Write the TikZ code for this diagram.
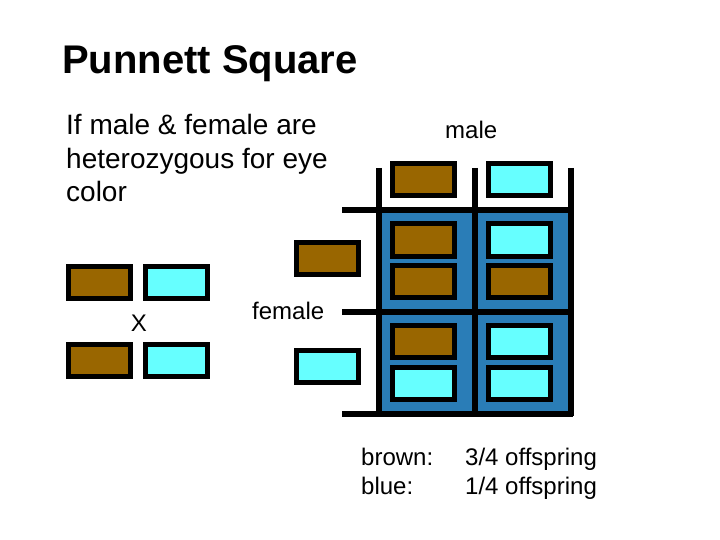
\documentclass[tikz,border=0pt]{standalone}
\usepackage{fontspec}
\setmainfont{Liberation Sans}
\definecolor{brownfill}{HTML}{996600}
\definecolor{bluefill}{HTML}{66FFFF}
\definecolor{cellblue}{HTML}{2A7DB7}
\tikzset{
  gene/.style={draw=black, line width=5pt, inner sep=0pt, minimum width=62pt, minimum height=32pt},
  brn/.style={gene, fill=brownfill},
  blu/.style={gene, fill=bluefill},
  gridline/.style={line width=6pt, black},
  lbl/.style={inner sep=0pt, anchor=base west, font=\fontsize{24}{28}\selectfont}
}
\begin{document}
\begin{tikzpicture}[x=1pt,y=-1pt]
\useasboundingbox (0,0) rectangle (720,540);
% title and text
\node[inner sep=0pt, anchor=base west, font=\fontsize{40}{48}\selectfont\bfseries] (title) at (62,74) {Punnett Square};
\node[inner sep=0pt, anchor=base west, font=\fontsize{28}{33.5}\selectfont, align=left] (intro) at (66,202) {If male \& female are\\heterozygous for eye\\color};
% parents
\node[brn] (p1) at (99.5,282) {};
\node[blu] (p2) at (176.5,282) {};
\node[lbl, anchor=base] (x) at (139,331) {X};
\node[brn] (p3) at (99.5,360.5) {};
\node[blu] (p4) at (176.5,360.5) {};
% grid
\fill[cellblue] (379,210) rectangle (570.5,413.5);
\draw[gridline] (379,168) -- (379,417);
\draw[gridline] (474.5,168) -- (474.5,417);
\draw[gridline] (570.5,168) -- (570.5,416);
\draw[gridline] (342,210) -- (573,210);
\draw[gridline] (342,312) -- (573,312);
\draw[gridline] (342,413.5) -- (573,413.5);
% male
\node[lbl] (male) at (445,139) {male};
\node[brn] (m1) at (423.5,180) {};
\node[blu] (m2) at (519.5,180) {};
% female
\node[lbl] (female) at (252,319) {female};
\node[brn] (f1) at (327.5,258.5) {};
\node[blu] (f2) at (327.5,366.5) {};
% cells
\node[brn] (c11a) at (423.5,240) {};
\node[brn] (c11b) at (423.5,281.5) {};
\node[blu] (c12a) at (519.5,240) {};
\node[brn] (c12b) at (519.5,281.5) {};
\node[brn] (c21a) at (423.5,341.5) {};
\node[blu] (c21b) at (423.5,383.5) {};
\node[blu] (c22a) at (519.5,341.5) {};
\node[blu] (c22b) at (519.5,383.5) {};
% results
\node[lbl] (brown) at (361,465) {brown:};
\node[lbl] (blue) at (361,494) {blue:};
\node[lbl] (r1) at (465,465) {3/4 offspring};
\node[lbl] (r2) at (465,494) {1/4 offspring};
\end{tikzpicture}
\end{document}
